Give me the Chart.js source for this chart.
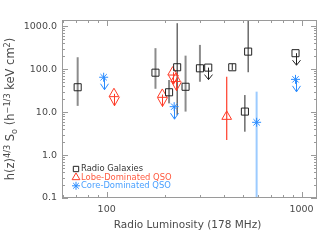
<!DOCTYPE html>
<html>
<head>
<meta charset="utf-8">
<script src="https://cdn.jsdelivr.net/npm/chart.js@4.4.1/dist/chart.umd.min.js"></script>
<style>
  html, body { margin: 0; padding: 0; background: #fff; }
  canvas { display: block; }
</style>
</head>
<body>
<canvas id="chart" width="336" height="240"></canvas>
<script>
// Radio galaxies with measured values (gray error bars)
const rgLum = [71, 178, 209, 254, 301];
const rgFlux = [38, 83, 29, 39, 105];
const rgLow = [14, 35, 16, 10.3, 51];
const rgHigh = [190, 309, 56, 207, 368];

// Radio galaxies with measured values (black error bars)
const rgbLum = [230, 441, 512, 532];
const rgbFlux = [111, 111, 10.3, 257];
const rgbLow = [8.5, 96, 3.5, 85];
const rgbHigh = [1180, 133, 25, 1500];

// Radio galaxies, upper limits
const rgLimLum = [332, 931];
const rgLimFlux = [109, 236];

// Lobe-dominated QSOs
const lobeLum = [413];
const lobeFlux = [7.9];
const lobeLow = [2.25];
const lobeHigh = [67];
const lobeLimLum = [109, 193, 218, 226];
const lobeLimFlux = [26.7, 25.7, 85, 60];

// Core-dominated QSOs
const coreLum = [588];
const coreFlux = [5.8];
const coreLow = [0.05];
const coreHigh = [30];
const coreLimLum = [96.5, 222, 931];
const coreLimFlux = [65, 13.4, 58];

const legendLabels = ['Radio Galaxies', 'Lobe-Dominated QSO', 'Core-Dominated QSO'];
const xMajor = [100, 1000];
const xMinor = [60, 70, 80, 90, 200, 300, 400, 500, 600, 700, 800, 900];
const yMajor = [0.1, 1, 10, 100, 1000];

const BLACK = '#222222';
const GRAY = '#8c8c8c';
const RED = '#ff3c28';
const BLUE = '#2a8cff';
const LIGHTBLUE = '#9ccbff';
const FONT = 'DejaVu Sans';

const pts = (xs, ys) => xs.map((x, i) => ({ x: x, y: ys[i] }));

// one small line dataset per error bar
function barSets(xs, lo, hi, color, width) {
    return xs.map((x, i) => ({
        data: [{ x: x, y: lo[i] }, { x: x, y: hi[i] }],
        showLine: true,
        borderColor: color,
        borderWidth: width,
        pointRadius: 0,
        order: 2
    }));
}

function markerSet(xs, ys, style, radius, color, arrow) {
    return {
        data: pts(xs, ys),
        pointStyle: style,
        pointRadius: radius,
        pointBorderColor: color,
        pointBackgroundColor: 'rgba(0,0,0,0)',
        pointBorderWidth: 1,
        borderColor: color,
        order: 0,
        arrow: arrow || null
    };
}

const yTicks = [];
yMajor.forEach(d => {
    for (let m = 1; m <= 9; m++) {
        const v = +(d * m).toPrecision(3);
        if (v <= 1400) yTicks.push(v);
    }
});
const xTicks = xMajor.concat(xMinor).sort((a, b) => a - b);

// arrows for upper limits and frame / labels
const decorPlugin = {
    id: 'decor',
    afterDatasetsDraw(chart) {
        const ctx = chart.ctx;
        chart.data.datasets.forEach((ds, i) => {
            if (!ds.arrow) return;
            const meta = chart.getDatasetMeta(i);
            ctx.save();
            ctx.strokeStyle = ds.borderColor;
            ctx.lineWidth = 1;
            meta.data.forEach(pt => {
                const x = Math.round(pt.x) + 0.5;
                const y0 = pt.y;
                const y1 = pt.y + ds.arrow.len;
                ctx.beginPath();
                ctx.moveTo(x, y0);
                ctx.lineTo(x, y1);
                ctx.moveTo(x - ds.arrow.half, y1 - ds.arrow.head);
                ctx.lineTo(x, y1);
                ctx.lineTo(x + ds.arrow.half, y1 - ds.arrow.head);
                ctx.stroke();
            });
            ctx.restore();
        });
    },
    afterDraw(chart) {
        const ctx = chart.ctx;
        const a = chart.chartArea;
        const sx = chart.scales.x, sy = chart.scales.y;
        ctx.save();
        ctx.strokeStyle = '#9a9a9a';
        ctx.lineWidth = 1;
        ctx.strokeRect(a.left + 0.5, a.top + 0.5, a.right - a.left - 1, a.bottom - a.top - 1);

        ctx.beginPath();
        xTicks.forEach(v => {
            const px = Math.round(sx.getPixelForValue(v)) + 0.5;
            const len = xMajor.includes(v) ? 6 : 3;
            ctx.moveTo(px, a.bottom); ctx.lineTo(px, a.bottom - len);
            ctx.moveTo(px, a.top); ctx.lineTo(px, a.top + len);
        });
        yTicks.forEach(v => {
            const py = Math.round(sy.getPixelForValue(v)) + 0.5;
            const len = yMajor.includes(v) ? 6 : 3;
            ctx.moveTo(a.left, py); ctx.lineTo(a.left + len, py);
            ctx.moveTo(a.right, py); ctx.lineTo(a.right - len, py);
        });
        ctx.stroke();

        // x title
        ctx.fillStyle = '#4a4a4a';
        ctx.font = '10.5px "' + FONT + '"';
        ctx.textAlign = 'center';
        ctx.textBaseline = 'middle';
        ctx.fillText('Radio Luminosity (178 MHz)', (a.left + a.right) / 2 - 2, 225);

        // y title with super/subscripts
        const parts = [
            ['h(z)', 0], ['4/3', 1], [' S', 0], ['o', -1], [' (h', 0],
            ['\u22121/3', 1], [' keV cm', 0], ['2', 1], [')', 0]
        ];
        const big = 11.5, small = 8.2;
        let total = 0;
        parts.forEach(p => {
            ctx.font = (p[1] ? small : big) + 'px "' + FONT + '"';
            total += ctx.measureText(p[0]).width;
        });
        ctx.translate(10, 109);
        ctx.rotate(-Math.PI / 2);
        ctx.textAlign = 'left';
        ctx.textBaseline = 'alphabetic';
        let cx = -total / 2;
        parts.forEach(p => {
            ctx.font = (p[1] ? small : big) + 'px "' + FONT + '"';
            const dy = p[1] === 1 ? -4.5 : (p[1] === -1 ? 2.5 : 0);
            ctx.fillText(p[0], cx, 4 + dy);
            cx += ctx.measureText(p[0]).width;
        });
        ctx.setTransform(1, 0, 0, 1, 0, 0);

        // legend
        const legendColors = [BLACK, RED, BLUE];
        const textColors = ['#333', '#ff5a40', '#4aa0ff'];
        const styles = ['rect', 'triangle', 'star'];
        const radii = [3.8, 4.5, 4];
        ctx.font = '8.4px "' + FONT + '"';
        ctx.textAlign = 'left';
        ctx.textBaseline = 'middle';
        legendLabels.forEach((lab, i) => {
            const y = 169 + i * 8.4;
            ctx.strokeStyle = legendColors[i];
            ctx.fillStyle = 'rgba(0,0,0,0)';
            ctx.lineWidth = 1;
            Chart.helpers.drawPoint(ctx, { pointStyle: styles[i], radius: radii[i], rotation: 0, borderWidth: 1 }, 76, y);
            ctx.fillStyle = textColors[i];
            ctx.fillText(lab, 81, y);
        });
        ctx.restore();
    }
};

const datasets = [
    markerSet(rgLum, rgFlux, 'rect', 5, BLACK),
    markerSet(rgbLum, rgbFlux, 'rect', 5, BLACK),
    markerSet(rgLimLum, rgLimFlux, 'rect', 5, BLACK, { len: 12, head: 5, half: 4 }),
    markerSet(lobeLum, lobeFlux, 'triangle', 5.6, RED),
    markerSet(lobeLimLum, lobeLimFlux, 'triangle', 5.6, RED, { len: 12, head: 9, half: 5 }),
    markerSet(coreLum, coreFlux, 'star', 4.5, BLUE),
    markerSet(coreLimLum, coreLimFlux, 'star', 4.5, BLUE, { len: 12.5, head: 6, half: 4 })
].concat(
    barSets(rgLum, rgLow, rgHigh, GRAY, 2),
    barSets(rgbLum, rgbLow, rgbHigh, BLACK, 1),
    barSets(lobeLum, lobeLow, lobeHigh, RED, 1.2),
    barSets(coreLum, coreLow, coreHigh, LIGHTBLUE, 2)
);

const ctx = document.getElementById('chart').getContext('2d');
const chart = new Chart(ctx, {
    type: 'scatter',
    data: { datasets: datasets },
    options: {
        responsive: false,
        animation: false,
        devicePixelRatio: 1,
        layout: { padding: { left: 0, right: 19, top: 20, bottom: 0 } },
        scales: {
            x: {
                type: 'logarithmic',
                min: 59,
                max: 1200,
                afterBuildTicks: s => { s.ticks = xTicks.map(v => ({ value: v })); },
                afterFit: s => { s.height = 42; },
                grid: { display: false, drawTicks: false },
                border: { display: false },
                ticks: {
                    autoSkip: false,
                    maxRotation: 0,
                    padding: 6,
                    color: '#4a4a4a',
                    font: { family: FONT, size: 9.5 },
                    callback: v => xMajor.includes(v) ? String(v) : ''
                }
            },
            y: {
                type: 'logarithmic',
                min: 0.1,
                max: 1400,
                afterBuildTicks: s => { s.ticks = yTicks.map(v => ({ value: v })); },
                afterFit: s => { s.width = 62; },
                grid: { display: false, drawTicks: false },
                border: { display: false },
                ticks: {
                    autoSkip: false,
                    padding: 5,
                    color: '#4a4a4a',
                    font: { family: FONT, size: 9.5 },
                    callback: v => yMajor.includes(v) ? v.toFixed(1) : ''
                }
            }
        },
        plugins: {
            legend: { display: false },
            tooltip: { enabled: false }
        }
    },
    plugins: [decorPlugin]
});
</script>
</body>
</html>
